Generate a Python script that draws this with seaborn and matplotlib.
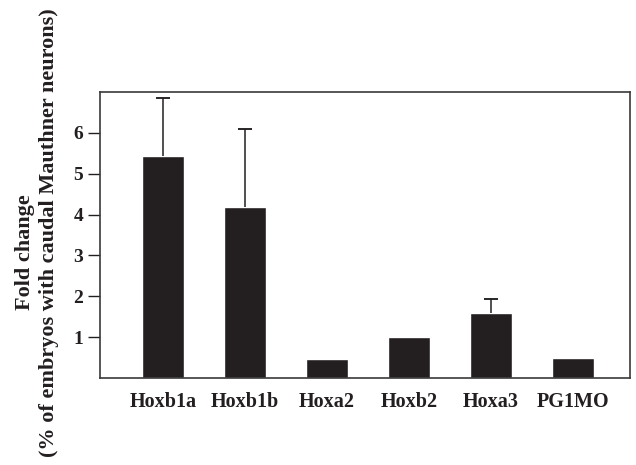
import numpy as np
import pandas as pd
import matplotlib
matplotlib.use('Agg')
import matplotlib.pyplot as plt
import seaborn as sns

genes = ['Hoxb1a', 'Hoxb1b', 'Hoxa2', 'Hoxb2', 'Hoxa3', 'PG1MO']
fold_change = [5.44, 4.19, 0.47, 1.0, 1.59, 0.48]
err_upper = [1.41, 1.90, 0.0, 0.0, 0.35, 0.0]

sns.set_style('ticks')
plt.rcParams['font.family'] = ['Liberation Serif', 'DejaVu Serif']
plt.rcParams['font.weight'] = 'bold'

df = pd.DataFrame({'gene': genes, 'fold': fold_change})

fig = plt.figure(figsize=(6.36, 4.65), dpi=100)
ax = fig.add_axes([0.1572, 0.187, 0.8333, 0.615])

sns.barplot(data=df, x='gene', y='fold', color='#231f20', saturation=1,
            width=0.51, ax=ax)

# upper error bars only: stem from bar top, cap at the end
x_pos = np.arange(len(genes))
has_err = np.array(err_upper) > 0
xs = x_pos[has_err]
ys = np.array(fold_change)[has_err]
es = np.array(err_upper)[has_err]
ax.errorbar(xs, ys + es / 2, yerr=es / 2, fmt='none', ecolor='#231f20',
            elinewidth=1.1, capsize=0)
ax.errorbar(xs, ys + es, yerr=np.zeros(len(xs)), fmt='none', ecolor='#231f20',
            elinewidth=1.1, capsize=5, capthick=1.1)

ax.set_xlim(-0.768, 5.695)
ax.set_ylim(0, 7)
ax.set_yticks([1, 2, 3, 4, 5, 6])
ax.tick_params(axis='y', length=9, width=1, pad=3, labelsize=14, colors='#231f20')
ax.tick_params(axis='x', length=0, pad=10, labelsize=14.5, colors='#231f20')
for lab in ax.get_xticklabels() + ax.get_yticklabels():
    lab.set_fontweight('bold')
for sp in ax.spines.values():
    sp.set_visible(True)
    sp.set_linewidth(1.2)
    sp.set_color('#3a3a3a')
ax.set_xlabel('')
ax.set_ylabel('')

fig.text(25 / 636, 1 - 252 / 465, 'Fold change', rotation=90, ha='center', va='center',
         fontsize=16, fontweight='bold', color='#231f20')
fig.text(49 / 636, 1 - 233 / 465, '(% of embryos with caudal Mauthner neurons)',
         rotation=90, ha='center', va='center', fontsize=16, fontweight='bold',
         color='#231f20')

fig.savefig('out.png', dpi=100)
